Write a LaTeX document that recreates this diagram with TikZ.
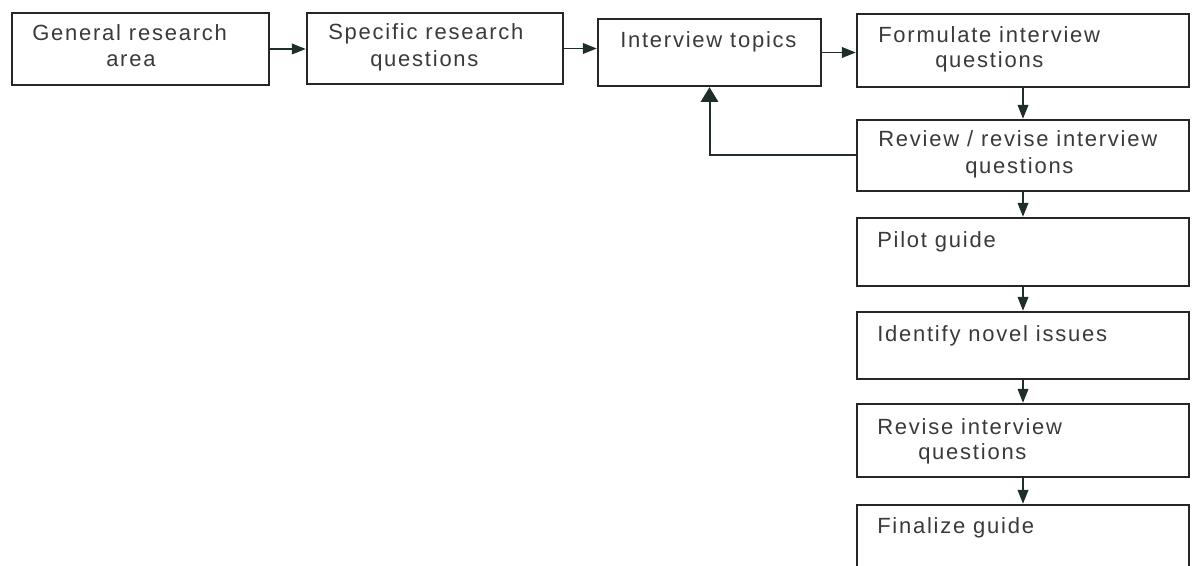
\documentclass[tikz,border=0pt]{standalone}
\usepackage{fontspec}
\setmainfont{Liberation Sans}[LetterSpace=8]
\usetikzlibrary{arrows.meta}
\definecolor{edge}{HTML}{262626}
\definecolor{wire}{HTML}{1F2D2B}
\definecolor{ink}{HTML}{3A3A3A}
\tikzset{
  box/.style={draw=edge, line width=1.8pt, fill=white, rectangle, inner sep=0pt},
  label/.style={inner sep=0pt, anchor=base west, text=ink, font=\fontsize{16.5}{20}\selectfont},
  link/.style={draw=wire, line width=1.3pt, -{Triangle[length=10.5pt, width=8pt]}},
  backlink/.style={draw=wire, line width=1.5pt, -{Triangle[length=11pt, width=13pt]}}
}
\begin{document}
\begin{tikzpicture}[x=0.75pt, y=-0.75pt]
\useasboundingbox (0,0) rectangle (1192,566);
\clip (0,0) rectangle (1192,566);

% boxes (centre, width, height in px)
\node[box, minimum width=192.75pt, minimum height=54pt] (b1) at (140.5,49) {};
\node[box, minimum width=192pt, minimum height=53.25pt] (b2) at (435,48.5) {};
\node[box, minimum width=167.25pt, minimum height=50.25pt] (b3) at (709.5,52.5) {};
\node[box, minimum width=249pt, minimum height=54.75pt] (b4) at (1023,50.5) {};
\node[box, minimum width=249pt, minimum height=53.25pt] (b5) at (1023,155.5) {};
\node[box, minimum width=249pt, minimum height=51pt] (b6) at (1023,252) {};
\node[box, minimum width=249pt, minimum height=50.25pt] (b7) at (1023,345.5) {};
\node[box, minimum width=249pt, minimum height=54.75pt] (b8) at (1023,440.5) {};
\node[box, minimum width=249pt, minimum height=52.5pt] (b9) at (1023,540) {};

% texts
\node[label] (t1a) at (32,41) {General research};
\node[label] (t1b) at (106,67) {area};
\node[label] (t2a) at (328,40) {Specific research};
\node[label] (t2b) at (370,67) {questions};
\node[label] (t3) at (620,48) {Interview topics};
\node[label] (t4a) at (878,43) {Formulate interview};
\node[label] (t4b) at (935,68) {questions};
\node[label] (t5a) at (878,147) {Review / revise interview};
\node[label] (t5b) at (965,174) {questions};
\node[label] (t6) at (877,248) {Pilot guide};
\node[label] (t7) at (877,342) {Identify novel issues};
\node[label] (t8a) at (877,435) {Revise interview};
\node[label] (t8b) at (918,459) {questions};
\node[label] (t9) at (877,533) {Finalize guide};

% connectors
\draw[link] (b1.east) -- (b1.east -| b2.west);
\draw[link] (b2.east) -- (b2.east -| b3.west);
\draw[link] (b3.east) -- (b3.east -| b4.west);
\draw[link] (b4.south) -- (b5.north);
\draw[link] (b5.south) -- (b6.north);
\draw[link] (b6.south) -- (b7.north);
\draw[link] (b7.south) -- (b8.north);
\draw[link] (b8.south) -- (b9.north);
\draw[backlink] (b5.west) -| (b3.south);
\end{tikzpicture}
\end{document}
